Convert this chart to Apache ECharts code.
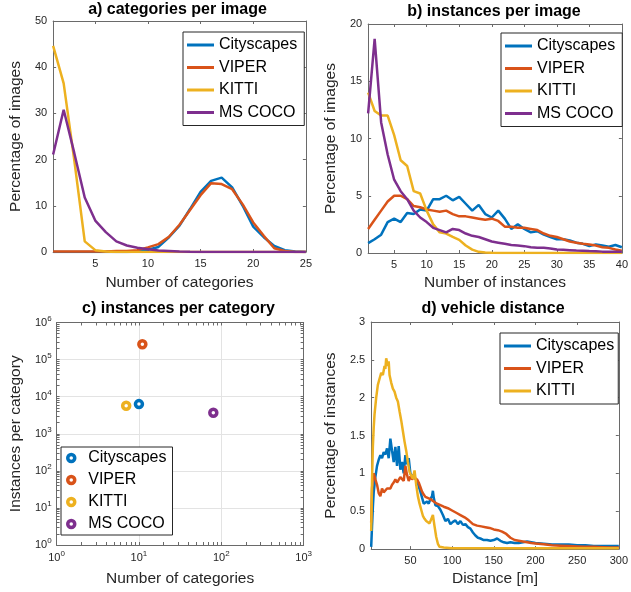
<!DOCTYPE html>
<html>
<head>
<meta charset="utf-8">
<script src="https://cdn.jsdelivr.net/npm/echarts@6/dist/echarts.min.js"></script>
<style>
html, body { margin: 0; padding: 0; background: #fff; }
.panel { position: absolute; }
</style>
</head>
<body>
<div id="pa" class="panel" style="left:0;top:0;width:315px;height:296px"></div>
<div id="pb" class="panel" style="left:315px;top:0;width:316px;height:296px"></div>
<div id="pc" class="panel" style="left:0;top:296px;width:315px;height:296px"></div>
<div id="pd" class="panel" style="left:315px;top:296px;width:316px;height:296px"></div>
<script>
// a) categories per image
const catsPerImage = [1,2,3,4,5,6,7,8,9,10,11,12,13,14,15,16,17,18,19,20,21,22,23,24,25]
const cityCats  = [0,0,0,0,0,0,0,0,0.1,0.5,1.1,3.2,5.7,9.3,13.0,15.4,16.1,14.0,10.0,5.5,3.2,1.3,0.4,0.1,0]
const viperCats = [0.1,0.1,0.1,0.1,0.1,0.1,0.2,0.2,0.4,1.0,1.7,3.3,5.9,9.1,12.3,14.9,14.7,13.6,10.3,6.4,3.5,0.8,0.2,0,0]
const kittiCats = [44.6,36.5,20.0,2.3,0.4,0.1,0,0,0,0,0,0,0,0,0,0,0,0,0,0,0,0,0,0,0]
const cocoCats  = [21.1,30.8,21.5,11.8,6.8,4.3,2.3,1.4,0.9,0.6,0.3,0.2,0.1,0.05,0.02,0,0,0,0,0,0,0,0,0,0]

// b) instances per image
const instPerImage = [1,2,3,4,5,6,7,8,9,10,11,12,13,14,15,16,17,18,19,20,21,22,23,24,25,26,27,28,29,30,31,32,33,34,35,36,37,38,39,40]
const cityInst  = [0.86,1.2,1.6,2.7,3.0,2.7,3.5,3.4,3.8,3.7,4.7,4.7,5.0,4.6,4.9,4.3,3.7,4.2,3.4,3.1,3.7,3.0,2.1,2.5,2.1,1.8,1.9,1.6,1.4,1.2,1.2,1.1,0.9,0.8,0.6,0.75,0.65,0.55,0.7,0.5]
const viperInst = [2.1,2.9,3.7,4.5,5.0,5.0,4.7,4.1,4.0,3.8,3.7,3.6,3.7,3.4,3.2,3.2,3.1,3.0,2.9,3.0,2.8,2.3,2.3,2.2,2.2,2.1,2.0,1.7,1.5,1.4,1.2,1.0,0.9,0.8,0.75,0.65,0.5,0.45,0.3,0.2]
const kittiInst = [14.0,12.4,12.0,12.0,10.3,8.1,7.6,5.4,5.2,3.7,2.5,1.8,1.7,1.4,1.15,0.65,0.3,0.1,0.05,0.02,0,0,0,0,0,0,0,0,0,0,0,0,0,0,0,0,0,0,0,0]
const cocoInst  = [12.2,18.7,11.4,8.6,6.4,5.4,4.7,3.7,3.1,2.7,2.2,2.0,1.8,2.1,2.0,1.7,1.5,1.4,1.2,1.0,0.9,0.8,0.7,0.65,0.6,0.5,0.45,0.45,0.4,0.3,0.28,0.25,0.22,0.2,0.17,0.15,0.12,0.1,0.1,0.1]

// c) instances per category
const datasetNames = ['Cityscapes', 'VIPER', 'KITTI', 'MS COCO']
const numCategories = [10, 11, 7, 80]
const instPerCategory = [6300, 260000, 5700, 3700]

// d) vehicle distance
const distCity = [3,4,5,6,7,8,10,12,14,16,18,20,22,24,26,28,30,32,34,36,38,40,42,44,46,48,50,52,54,56,58,60,62,64,66,68,70,72,74,76,77,78,80,83,86,89,92,95,98,101,104,107,110,113,116,119,122,125,128,131,134,138,142,146,150,154,158,162,166,170,175,180,185,190,195,200,210,220,230,240,250,260,270,280,290,300]
const pctCity  = [0.03,0.3,0.55,0.75,0.85,0.95,1.1,1.18,1.24,1.2,1.28,1.25,1.33,1.2,1.46,1.3,1.15,1.35,1.1,1.36,1.05,1.15,1.0,1.24,1.12,1.2,1.0,0.97,0.95,0.93,0.9,0.88,0.76,0.68,0.6,0.62,0.63,0.6,0.66,0.7,0.77,0.68,0.58,0.57,0.52,0.45,0.37,0.4,0.33,0.36,0.38,0.33,0.37,0.32,0.33,0.29,0.27,0.22,0.18,0.15,0.14,0.12,0.12,0.11,0.12,0.14,0.11,0.09,0.08,0.09,0.08,0.08,0.09,0.1,0.09,0.08,0.07,0.06,0.06,0.06,0.05,0.05,0.04,0.04,0.04,0.04]
const distViper = [3,4,5,6,7,8,10,12,14,16,18,20,22,24,26,28,30,32,34,36,38,40,42,44,46,48,50,52,54,56,58,60,62,64,66,68,70,74,78,82,86,90,95,100,105,110,115,120,125,130,135,140,145,150,155,160,165,170,175,180,185,190,195,200,210,220,230,240,250,260,270,280,290,300]
const pctViper  = [0.35,0.8,0.95,1.0,0.98,0.92,0.85,0.74,0.7,0.8,0.75,0.76,0.8,0.82,0.8,0.85,0.88,0.92,0.88,0.9,0.95,0.93,0.9,1.1,0.98,0.9,0.96,0.92,0.95,0.96,0.92,0.88,0.82,0.76,0.72,0.69,0.68,0.66,0.63,0.6,0.58,0.56,0.54,0.51,0.48,0.45,0.42,0.38,0.33,0.31,0.3,0.29,0.28,0.26,0.25,0.23,0.2,0.15,0.12,0.11,0.1,0.09,0.08,0.075,0.065,0.05,0.045,0.04,0.035,0.03,0.03,0.025,0.02,0.02]
const distKitti = [3,4,5,6,7,9,11,13,15,17,19,20,21,22,23,24,25,26,27,29,31,33,35,37,39,41,43,45,47,49,51,53,55,57,59,61,63,65,67,69,71,73,75,77,79,81,83,85,90,100,150,200,250,300]
const pctKitti  = [0.24,0.9,1.35,1.6,1.78,2.0,2.17,2.25,2.33,2.3,2.42,2.38,2.52,2.5,2.42,2.48,2.3,2.28,2.2,2.12,2.08,2.0,1.95,1.82,1.7,1.56,1.42,1.3,1.15,1.02,0.97,0.93,1.04,0.85,0.7,0.6,0.52,0.44,0.4,0.37,0.36,0.34,0.36,0.45,0.3,0.16,0.07,0.03,0.02,0.01,0.01,0.01,0.01,0.01]

const FONT = '"Liberation Sans", Arial, Helvetica, sans-serif'
const AXIS_COLOR = '#6a6a6a'
const TEXT_COLOR = '#262626'
const COLORS = ['#0072BD', '#D95319', '#EDB120', '#7E2F8E']

function pairs(xs, ys) {
	return xs.map((x, i) => [x, ys[i]])
}

// bottom/left axis with labels + mirrored top/right axis (MATLAB box)
function axisPair(o) {
	const scale = { type: o.type || 'value', min: o.min, max: o.max }
	if (o.type === 'log') scale.logBase = 10
	if (o.interval) scale.interval = o.interval
	const base = Object.assign({}, scale, {
		axisLine: { show: true, onZero: false, lineStyle: { color: AXIS_COLOR, width: 1 } },
		axisTick: { show: true, inside: true, length: 3, lineStyle: { color: AXIS_COLOR }, customValues: o.ticks },
		splitLine: { show: false }
	})
	const main = Object.assign({}, base, {
		position: o.pos[0],
		name: o.name,
		nameLocation: 'middle',
		nameGap: o.nameGap,
		nameTextStyle: { fontFamily: FONT, fontSize: 15.5, color: TEXT_COLOR },
		axisLabel: {
			show: true, margin: o.margin || 6, fontFamily: FONT, fontSize: 11, color: TEXT_COLOR,
			customValues: o.labels, formatter: o.formatter, rich: o.rich
		}
	})
	const mirror = Object.assign({}, base, {
		position: o.pos[1],
		axisLabel: { show: false }
	})
	const axes = [main, mirror]
	if (o.grid) {
		// major grid lines only, at the default (decade) ticks
		axes.push(Object.assign({}, scale, {
			position: o.pos[0],
			axisLine: { show: false, onZero: false },
			axisTick: { show: false },
			axisLabel: { show: false },
			splitLine: { show: true, lineStyle: { color: '#e3e3e3', width: 1 } }
		}))
	}
	return axes
}

function title(text, x, y) {
	return {
		type: 'text', x: x, y: y,
		style: { text: text, font: 'bold 16px ' + FONT, fill: '#000', textAlign: 'center', textVerticalAlign: 'top' }
	}
}

function legend(left, top, names, opts) {
	return Object.assign({
		left: left, top: top, orient: 'vertical',
		data: names,
		icon: 'rect', itemWidth: 27, itemHeight: 3, itemGap: 6.5,
		padding: [5, 7, 5, 4],
		borderColor: '#262626', borderWidth: 1, backgroundColor: '#fff',
		textStyle: { fontFamily: FONT, fontSize: 16, color: '#000' },
		selectedMode: false
	}, opts || {})
}

function lineSeries(name, data, i) {
	return {
		name: name, type: 'line', data: data, symbol: 'none',
		lineStyle: { color: COLORS[i], width: 2.5 },
		itemStyle: { color: COLORS[i] }
	}
}

// panel a
const chartA = echarts.init(document.getElementById('pa'))
chartA.setOption({
	animation: false,
	graphic: [title('a) categories per image', 177.5, 2)],
	grid: { left: 45, top: 21, width: 265, height: 232 },
	xAxis: axisPair({ min: 1, max: 25, ticks: [5,10,15,20,25], labels: [5,10,15,20,25], pos: ['bottom', 'top'], name: 'Number of categories', nameGap: 23 }),
	yAxis: axisPair({ min: 0, max: 50, interval: 10, pos: ['left', 'right'], name: 'Percentage of images', nameGap: 22 }),
	legend: legend(183, 32, datasetNames),
	series: [
		lineSeries('Cityscapes', pairs(catsPerImage, cityCats), 0),
		lineSeries('VIPER', pairs(catsPerImage, viperCats), 1),
		lineSeries('KITTI', pairs(catsPerImage, kittiCats), 2),
		lineSeries('MS COCO', pairs(catsPerImage, cocoCats), 3)
	]
})

// panel b
const chartB = echarts.init(document.getElementById('pb'))
chartB.setOption({
	animation: false,
	graphic: [title('b) instances per image', 179, 4)],
	grid: { left: 46, top: 24, width: 266, height: 231 },
	xAxis: axisPair({ min: 1, max: 40, ticks: [5,10,15,20,25,30,35,40], labels: [5,10,15,20,25,30,35,40], pos: ['bottom', 'top'], name: 'Number of instances', nameGap: 22 }),
	yAxis: axisPair({ min: 0, max: 20, interval: 5, pos: ['left', 'right'], name: 'Percentage of images', nameGap: 22 }),
	legend: legend(186, 33, datasetNames),
	series: [
		lineSeries('Cityscapes', pairs(instPerImage, cityInst), 0),
		lineSeries('VIPER', pairs(instPerImage, viperInst), 1),
		lineSeries('KITTI', pairs(instPerImage, kittiInst), 2),
		lineSeries('MS COCO', pairs(instPerImage, cocoInst), 3)
	]
})

// panel c (log-log)
const minorX = [1,2,3,4,5,6,7,8,9,10,20,30,40,50,60,70,80,90,100,200,300,400,500,600,700,800,900,1000]
const minorY = []
for (let e = 0; e < 6; e++) {
	for (let k = 1; k < 10; k++) minorY.push(k * Math.pow(10, e))
}
minorY.push(1e6)
const supLabel = v => '{b|10}{s|' + Math.round(Math.log10(v)) + '}'
const supRich = {
	b: { fontFamily: FONT, fontSize: 11, color: TEXT_COLOR, lineHeight: 16 },
	s: { fontFamily: FONT, fontSize: 8, color: TEXT_COLOR, verticalAlign: 'top' }
}
const chartC = echarts.init(document.getElementById('pc'))
chartC.setOption({
	animation: false,
	graphic: [title('c) instances per category', 178.5, 5)],
	grid: { left: 50, top: 26.5, width: 257, height: 224 },
	xAxis: axisPair({ type: 'log', min: 1, max: 1000, ticks: minorX, pos: ['bottom', 'top'], name: 'Number of categories', nameGap: 26, formatter: supLabel, rich: supRich, margin: 5, grid: true }),
	yAxis: axisPair({ type: 'log', min: 1, max: 1e6, ticks: minorY, pos: ['left', 'right'], name: 'Instances per category', nameGap: 27, formatter: supLabel, rich: supRich, margin: 5, grid: true }),
	legend: legend(61, 151, datasetNames, {
		icon: 'circle', itemWidth: 24, itemHeight: 7, itemGap: 6, padding: [3, 6, 3, 5],
		itemStyle: { borderWidth: 3.5 }
	}),
	series: datasetNames.map((n, i) => ({
		name: n, type: 'scatter', symbol: 'circle', symbolSize: 7,
		data: [[numCategories[i], instPerCategory[i]]],
		itemStyle: { color: '#fff', borderColor: COLORS[i], borderWidth: 3.5, opacity: 1 }
	}))
})

// panel d
const chartD = echarts.init(document.getElementById('pd'))
chartD.setOption({
	animation: false,
	graphic: [title('d) vehicle distance', 178, 5)],
	grid: { left: 48, top: 26, width: 260, height: 229 },
	xAxis: axisPair({ min: 3, max: 300, ticks: [50,100,150,200,250,300], labels: [50,100,150,200,250,300], pos: ['bottom', 'top'], name: 'Distance [m]', nameGap: 21 }),
	yAxis: axisPair({ min: 0, max: 3, interval: 0.5, pos: ['left', 'right'], name: 'Percentage of instances', nameGap: 25 }),
	legend: legend(185, 37, datasetNames.slice(0, 3), { padding: [5, 4, 5, 4] }),
	series: [
		lineSeries('Cityscapes', pairs(distCity, pctCity), 0),
		lineSeries('VIPER', pairs(distViper, pctViper), 1),
		lineSeries('KITTI', pairs(distKitti, pctKitti), 2)
	]
})
</script>
</body>
</html>
